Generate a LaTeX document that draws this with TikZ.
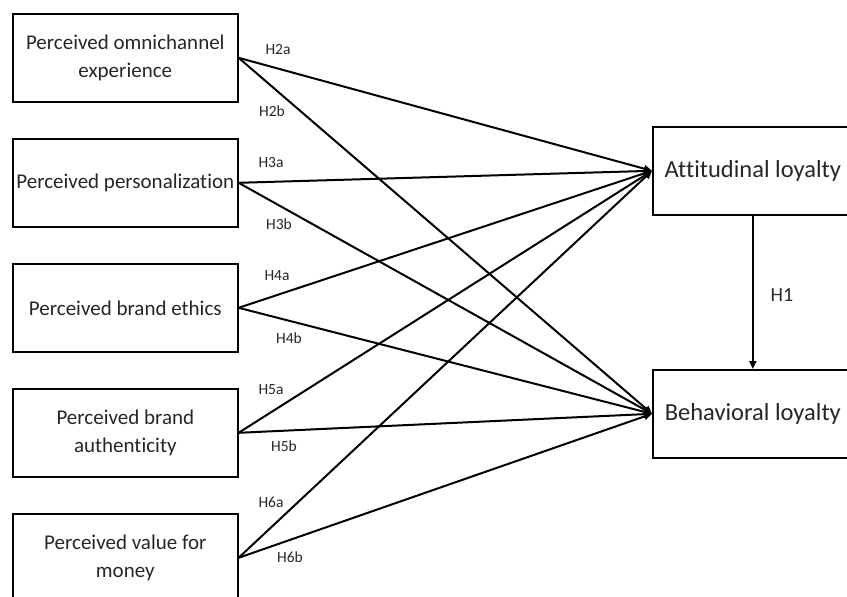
\documentclass[tikz,border=0pt]{standalone}
\usepackage{fontspec}
\setmainfont{Carlito}[Ligatures=NoCommon]
\usetikzlibrary{arrows.meta}
\definecolor{txtgray}{HTML}{262626}
\tikzset{
  factor/.style={draw,line width=1.6pt,anchor=north west,minimum width=225pt,
    minimum height=88pt,align=center,inner sep=0pt,text=txtgray,
    font=\fontsize{21}{28}\selectfont},
  outcome/.style={draw,line width=1.6pt,anchor=north west,minimum width=200pt,
    minimum height=88pt,inner sep=0pt,text=txtgray,
    font=\fontsize{24.5}{28}\selectfont},
  path/.style={line width=2pt,-{Triangle[length=8pt,width=7pt]}},
  hyp/.style={font=\fontsize{15.5}{18}\selectfont,inner sep=0pt,text=txtgray}
}
\begin{document}
\begin{tikzpicture}[x=1pt,y=-1pt]
  \useasboundingbox (0,0) rectangle (847,597);
  % antecedents
  \node[factor] (omni)  at (12,13)  {Perceived omnichannel\\experience};
  \node[factor] (pers)  at (12,138) {Perceived personalization};
  \node[factor] (ethic) at (12,263) {Perceived brand ethics};
  \node[factor] (auth)  at (12,388) {Perceived brand\\authenticity};
  \node[factor] (value) at (12,513) {Perceived value for\\money};
  % outcomes
  \node[outcome] (att) at (652,126) {Attitudinal loyalty};
  \node[outcome] (beh) at (652,369) {Behavioral loyalty};

  \draw[path] (att.south) -- (beh.north);
  \node[font=\fontsize{20}{24}\selectfont,inner sep=0pt,text=txtgray] (h1) at (782,295) {H1};

  \draw[path] (omni.east)  -- (att.west);
  \draw[path] (omni.east)  -- (beh.west);
  \draw[path] (pers.east)  -- (att.west);
  \draw[path] (pers.east)  -- (beh.west);
  \draw[path] (ethic.east) -- (att.west);
  \draw[path] (ethic.east) -- (beh.west);
  \draw[path] (auth.east)  -- (att.west);
  \draw[path] (auth.east)  -- (beh.west);
  \draw[path] (value.east) -- (att.west);
  \draw[path] (value.east) -- (beh.west);

  \node[hyp] (h2a) at (278,50)  {H2a};
  \node[hyp] (h2b) at (272,111) {H2b};
  \node[hyp] (h3a) at (271,163) {H3a};
  \node[hyp] (h3b) at (279,224) {H3b};
  \node[hyp] (h4a) at (277,276) {H4a};
  \node[hyp] (h4b) at (289,338) {H4b};
  \node[hyp] (h5a) at (271,390) {H5a};
  \node[hyp] (h5b) at (284,446) {H5b};
  \node[hyp] (h6a) at (271,502) {H6a};
  \node[hyp] (h6b) at (290,557) {H6b};
\end{tikzpicture}
\end{document}
